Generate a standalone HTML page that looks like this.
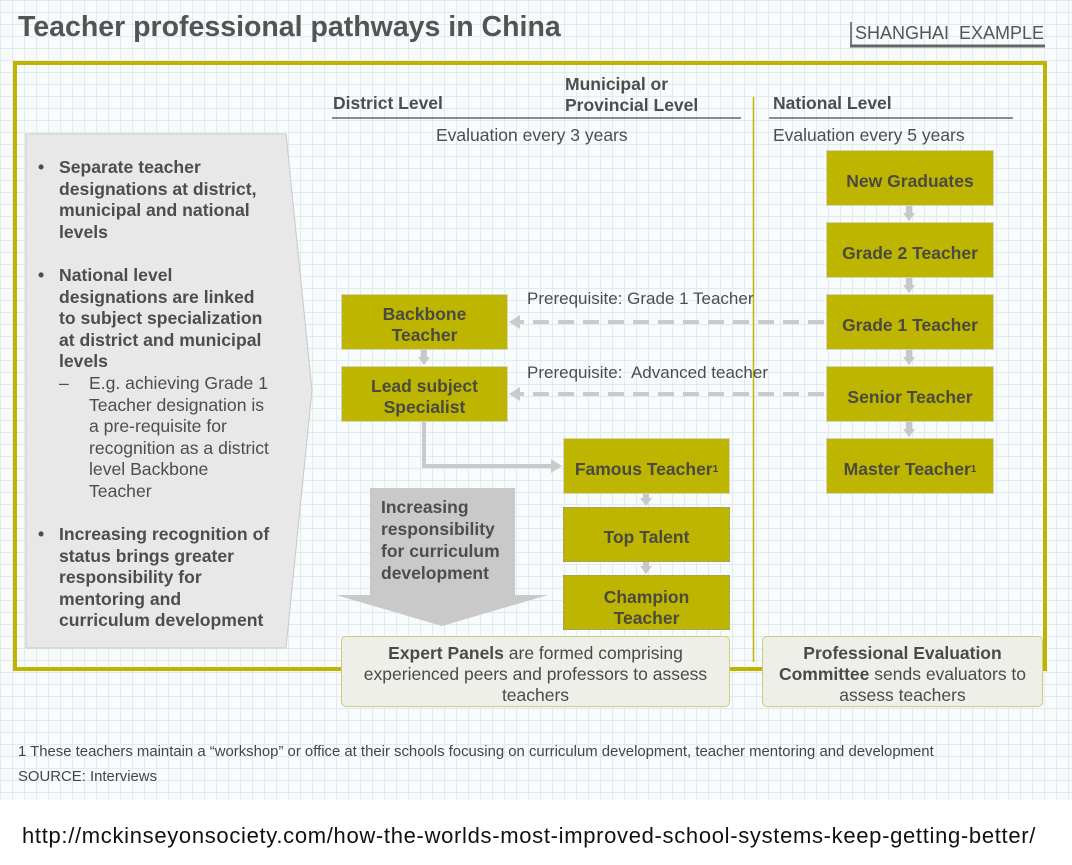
<!DOCTYPE html>
<html><head><meta charset="utf-8"><style>
*{margin:0;padding:0;box-sizing:border-box}
body{width:1072px;height:865px;background:#fff;position:relative;overflow:hidden;font-family:"Liberation Sans",sans-serif;color:#4d4d4d}
#bg{position:absolute;left:0;top:0;width:1072px;height:800px;background-color:#f8fbfc;
background-image:linear-gradient(#e1ebef 1px,transparent 1px),linear-gradient(90deg,#e1ebef 1px,transparent 1px);background-size:12px 12px}
.a{position:absolute;white-space:nowrap}
.b{font-weight:bold}
.box{position:absolute;background:#bdb500;border:1px solid #d4d4c0;display:flex;align-items:center;justify-content:center;text-align:center;font-weight:bold;font-size:17.5px;line-height:21px;color:#4a4a40;padding-top:6px}
.dash{border:1px dashed #9a9a80}
.pan{position:absolute;background:#efefe9;border:1.5px solid #cfcc7a;border-radius:5px;text-align:center;font-size:17.5px;line-height:21px;color:#4a4a4a;padding-top:6px;white-space:nowrap}
.bl{position:absolute;font-size:17.6px;line-height:21.6px;white-space:nowrap}
sup{font-size:10px;vertical-align:7px}
</style></head><body>
<div id="bg"></div>
<svg width="1072" height="865" style="position:absolute;left:0;top:0">
<rect x="15" y="63" width="1030" height="606" fill="none" stroke="#bdb500" stroke-width="4"/>
<line x1="851" y1="22" x2="851" y2="46" stroke="#555" stroke-width="1.5"/>
<line x1="850" y1="46" x2="1045" y2="46" stroke="#666" stroke-width="3"/>
<line x1="332" y1="118" x2="741" y2="118" stroke="#666" stroke-width="1.5"/>
<line x1="769" y1="118" x2="1013" y2="118" stroke="#666" stroke-width="1.5"/>
<line x1="753.5" y1="97" x2="753.5" y2="662" stroke="#bdb500" stroke-width="1.5"/>
<polygon points="26,134 286,134 312,390 286,648 26,648" fill="#e8e8e8" stroke="#c8c8c8" stroke-width="1"/>
<polygon points="370,488 515,488 515,595 548,595 442,626 336,595 370,595" fill="#c9c9c9"/>
<g fill="#c8c8c8">
<rect x="906" y="206" width="6" height="8"/><polygon points="903,213 915,213 909,221"/>
<rect x="906" y="278" width="6" height="8"/><polygon points="903,285 915,285 909,293"/>
<rect x="906" y="350" width="6" height="8"/><polygon points="903,357 915,357 909,365"/>
<rect x="906" y="422" width="6" height="8"/><polygon points="903,429 915,429 909,437"/>
<rect x="421" y="350" width="6" height="8"/><polygon points="418,357 430,357 424,365"/>
<rect x="643" y="494" width="6" height="5"/><polygon points="640,498 652,498 646,506"/>
<rect x="643" y="562" width="6" height="5"/><polygon points="640,566 652,566 646,574"/>
</g>
<line x1="824" y1="322" x2="520" y2="322" stroke="#cacaca" stroke-width="4" stroke-dasharray="16,9"/>
<polygon points="509,322 520,315 520,329" fill="#cacaca"/>
<line x1="824" y1="394" x2="520" y2="394" stroke="#cacaca" stroke-width="4" stroke-dasharray="16,9"/>
<polygon points="509,394 520,387 520,401" fill="#cacaca"/>
<polyline points="424,422 424,466 552,466" fill="none" stroke="#cacaca" stroke-width="4"/>
<polygon points="562,466 551,459 551,473" fill="#cacaca"/>
</svg>

<div class="a b" style="left:18px;top:11px;font-size:28.5px;color:#545454">Teacher professional pathways in China</div>
<div class="a" style="left:855px;top:23px;font-size:18px;color:#555">SHANGHAI&nbsp; EXAMPLE</div>
<div class="a b" style="left:333px;top:93px;font-size:17.5px">District Level</div>
<div class="a b" style="left:565px;top:74px;font-size:17.5px;line-height:21px">Municipal or<br>Provincial Level</div>
<div class="a b" style="left:773px;top:93px;font-size:17.5px">National Level</div>
<div class="a" style="left:436px;top:125px;font-size:17.5px">Evaluation every 3 years</div>
<div class="a" style="left:773px;top:125px;font-size:17.5px">Evaluation every 5 years</div>

<div class="bl b" style="left:38px;top:157px">•</div>
<div class="bl b" style="left:59px;top:157px">Separate teacher<br>designations at district,<br>municipal and national<br>levels</div>
<div class="bl b" style="left:38px;top:265px">•</div>
<div class="bl b" style="left:59px;top:265px">National level<br>designations are linked<br>to subject specialization<br>at district and municipal<br>levels</div>
<div class="bl" style="left:59px;top:373px">–</div>
<div class="bl" style="left:89px;top:373px">E.g. achieving Grade 1<br>Teacher designation is<br>a pre-requisite for<br>recognition as a district<br>level Backbone<br>Teacher</div>
<div class="bl b" style="left:38px;top:524px">•</div>
<div class="bl b" style="left:59px;top:524px">Increasing recognition of<br>status brings greater<br>responsibility for<br>mentoring and<br>curriculum development</div>

<div class="box" style="left:826px;top:150px;width:168px;height:56px">New Graduates</div>
<div class="box" style="left:826px;top:222px;width:168px;height:56px">Grade 2 Teacher</div>
<div class="box" style="left:826px;top:294px;width:168px;height:56px">Grade 1 Teacher</div>
<div class="box" style="left:826px;top:366px;width:168px;height:56px">Senior Teacher</div>
<div class="box" style="left:826px;top:438px;width:168px;height:56px">Master Teacher<sup>1</sup></div>
<div class="box" style="left:341px;top:294px;width:167px;height:56px">Backbone<br>Teacher</div>
<div class="box" style="left:341px;top:366px;width:167px;height:56px">Lead subject<br>Specialist</div>
<div class="box" style="left:563px;top:438px;width:167px;height:56px">Famous Teacher<sup>1</sup></div>
<div class="box dash" style="left:563px;top:507px;width:167px;height:55px">Top Talent</div>
<div class="box dash" style="left:563px;top:575px;width:167px;height:55px;padding-top:10px">Champion<br>Teacher</div>

<div class="a" style="left:527px;top:289px;font-size:17px">Prerequisite: Grade 1 Teacher</div>
<div class="a" style="left:527px;top:363px;font-size:17px">Prerequisite:&nbsp; Advanced teacher</div>
<div class="a b" style="left:381px;top:496px;font-size:17.5px;line-height:22px">Increasing<br>responsibility<br>for curriculum<br>development</div>

<div class="pan" style="left:341px;top:636px;width:389px;height:71px"><b>Expert Panels</b> are formed comprising<br>experienced peers and professors to assess<br>teachers</div>
<div class="pan" style="left:762px;top:636px;width:281px;height:71px"><b>Professional Evaluation<br>Committee</b> sends evaluators to<br>assess teachers</div>

<div class="a" style="left:18px;top:744px;font-size:14.9px;color:#444">1 These teachers maintain a “workshop” or office at their schools focusing on curriculum development, teacher mentoring and development</div>
<div class="a" style="left:18px;top:769px;font-size:14.9px;color:#444">SOURCE: Interviews</div>
<div class="a" style="left:22px;top:823px;font-size:22px;color:#111;letter-spacing:0.68px">http://mckinseyonsociety.com/how-the-worlds-most-improved-school-systems-keep-getting-better/</div>
</body></html>
